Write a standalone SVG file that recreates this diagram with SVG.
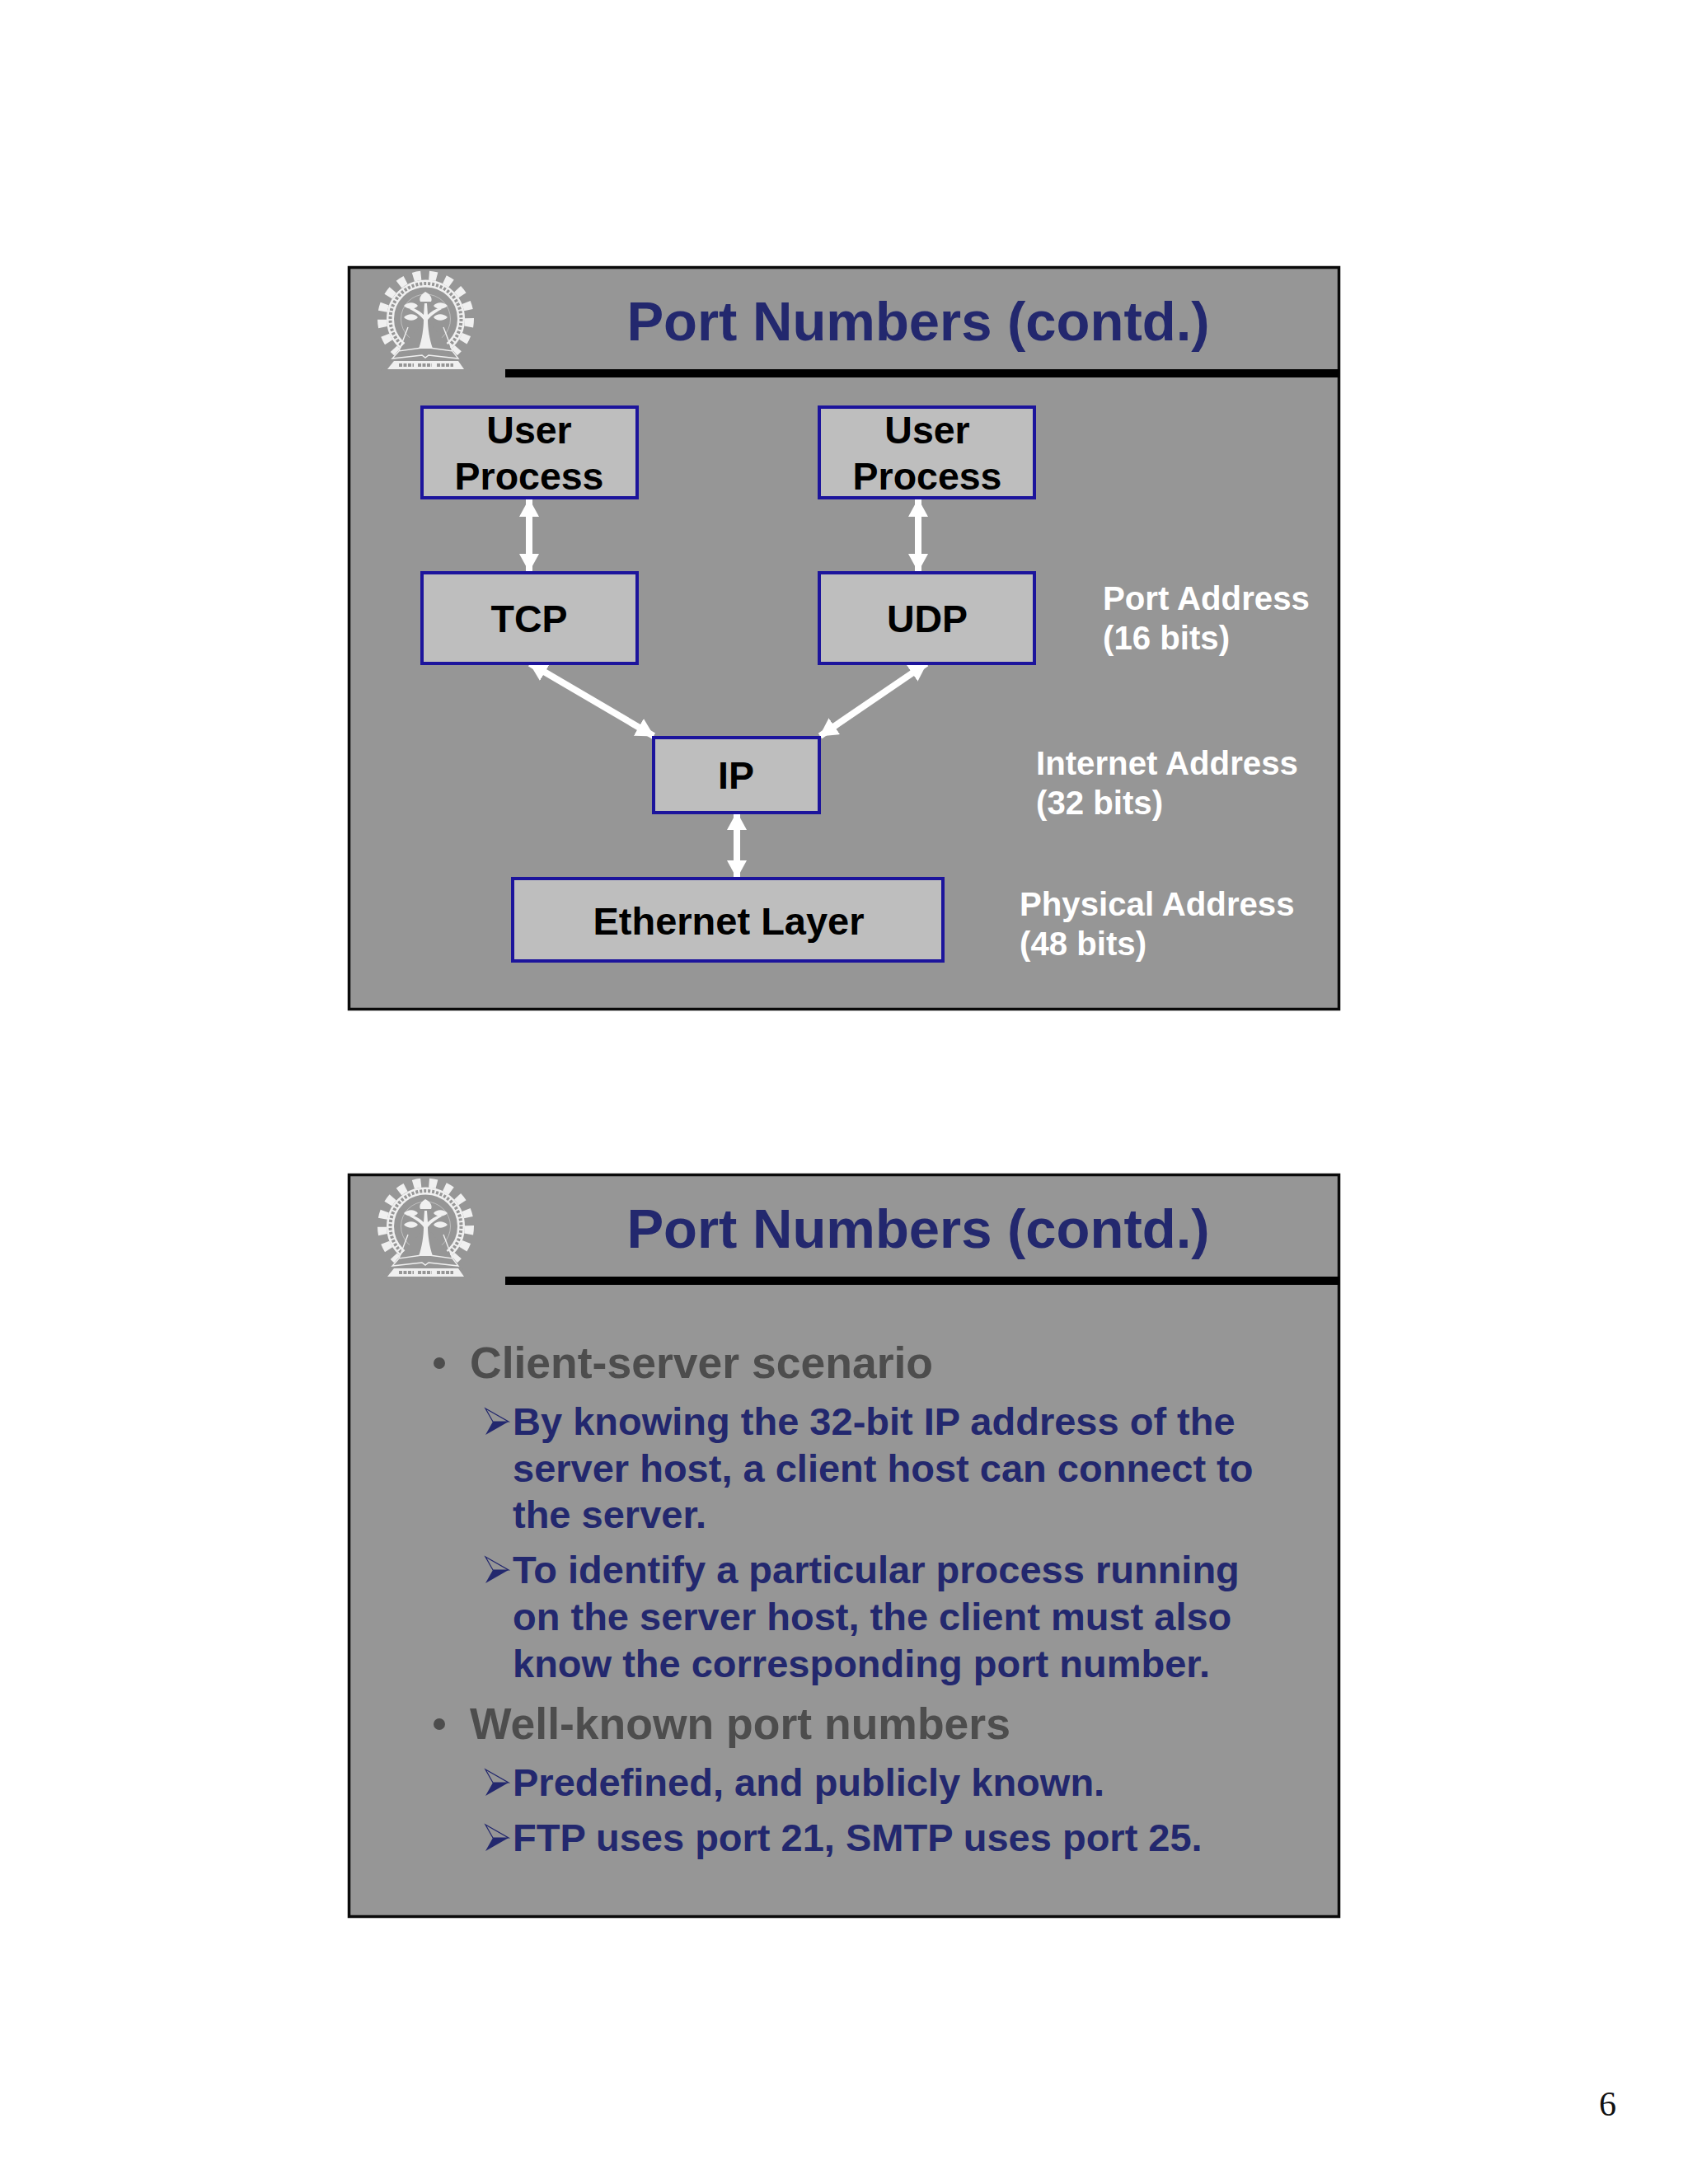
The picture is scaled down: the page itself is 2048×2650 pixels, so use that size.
<svg xmlns="http://www.w3.org/2000/svg" xmlns:xlink="http://www.w3.org/1999/xlink" width="2048" height="2650" viewBox="0 0 2048 2650">
<style>
text{font-family:"Liberation Sans",Arial,sans-serif;font-weight:700}
.slide{fill:#969696;stroke:#0a0a0a;stroke-width:3.5}
.rule{fill:#000}
.title{font-size:67px;fill:#23286e;text-anchor:middle}
.box{fill:#bebebe;stroke:#1c149c;stroke-width:4}
.bt{font-size:46.5px;fill:#000;text-anchor:middle}
.lab{font-size:40.2px;fill:#fff}
.h1{font-size:53.5px;fill:#4d4d4d}
.h2{font-size:47px;fill:#23286e}
.conn{stroke:#fff;stroke-width:8;fill:none;marker-start:url(#ah);marker-end:url(#ah)}
.lg{stroke:#f0f0f0;fill:none}
.lf{fill:#f0f0f0}
</style>
<defs>
<marker id="ah" viewBox="0 0 22 24" refX="21" refY="12" markerUnits="userSpaceOnUse" markerWidth="22" markerHeight="24" orient="auto-start-reverse"><path d="M0 0L22 12L0 24z" fill="#fff"/></marker>
<g id="logo">
<circle class="lg" cx="516.5" cy="387" r="53" stroke-width="11" stroke-dasharray="9.5 10"/>
<circle class="lg" cx="516.5" cy="387" r="43" stroke-width="9"/>
<circle cx="516.5" cy="387" r="43" fill="none" stroke="#969696" stroke-width="4" stroke-dasharray="3 2"/>
<circle class="lg" cx="516.5" cy="387" r="30" stroke-width="1" opacity=".45"/>
<path d="M516.5 387L462 450L571 450z" fill="#969696"/>
<path class="lf" d="M508 423C512 412 514 398 514 388C510 382 503 378 497 375L499 373C505 375 510 378 514 382L515 368L518 368L519 382C523 378 528 375 534 373L536 375C530 378 524 382 519 388C519 398 521 412 525 423z"/>
<path class="lf" d="M516 354C510 358 508 362 510 366L523 366C525 362 522 357 516 354zM490 371C495 366 503 366 507 371C503 376 495 376 490 371zM543 371C538 366 530 366 526 371C530 376 538 376 543 371zM490 385C495 380 503 380 507 385C503 390 495 390 490 385zM543 385C538 380 530 380 526 385C530 390 538 390 543 385z"/>
<path class="lg" stroke-width="1.4" d="M495 397L484 426L512 422M538 397L549 426L521 422M484 426L476 435L512 431L516 434L520 431L556 435L549 426"/>
<path class="lf" d="M478 438L556 438L563 448L470 448z"/>
<path d="M484 443H502M507 443H524M530 443H550" stroke="#969696" stroke-width="4" stroke-dasharray="4 1.5" fill="none"/>
</g>
<g id="bul"><path d="M0 0L28 16L0 32L9 16z" fill="#23286e"/><path d="M0 0L28 16L9 16z" fill="#969696" stroke="#23286e" stroke-width="1.2"/></g>
</defs>
<rect width="2048" height="2650" fill="#fff"/>

<g id="slide1">
<rect class="slide" x="423.5" y="324.5" width="1201" height="900"/>
<use xlink:href="#logo" href="#logo"/>
<text class="title" x="1114" y="413">Port Numbers (contd.)</text>
<rect class="rule" x="613" y="448" width="1012" height="10"/>
</g>
<g id="connectors">
<line class="conn" x1="642" y1="606" x2="642" y2="693"/>
<line class="conn" x1="1114" y1="606" x2="1114" y2="693"/>
<line class="conn" x1="643" y1="805" x2="793" y2="893"/>
<line class="conn" x1="1124" y1="805" x2="995" y2="893"/>
<line class="conn" x1="894" y1="986" x2="894" y2="1065"/>
</g>
<g id="n-user1"><rect class="box" x="512" y="494" width="261" height="110"/><text class="bt" x="642" y="538">User</text><text class="bt" x="642" y="594">Process</text></g>
<g id="n-user2"><rect class="box" x="994" y="494" width="261" height="110"/><text class="bt" x="1125" y="538">User</text><text class="bt" x="1125" y="594">Process</text></g>
<g id="n-tcp"><rect class="box" x="512" y="695" width="261" height="110"/><text class="bt" x="642" y="767">TCP</text></g>
<g id="n-udp"><rect class="box" x="994" y="695" width="261" height="110"/><text class="bt" x="1125" y="767">UDP</text></g>
<g id="n-ip"><rect class="box" x="793" y="895" width="201" height="91"/><text class="bt" x="893" y="957">IP</text></g>
<g id="n-eth"><rect class="box" x="622" y="1066" width="522" height="100"/><text class="bt" style="font-size:47px" x="884" y="1134">Ethernet Layer</text></g>
<g id="labels">
<text class="lab" x="1338" y="740">Port Address</text><text class="lab" x="1338" y="788">(16 bits)</text>
<text class="lab" x="1257" y="940">Internet Address</text><text class="lab" x="1257" y="988">(32 bits)</text>
<text class="lab" x="1237" y="1111">Physical Address</text><text class="lab" x="1237" y="1159">(48 bits)</text>
</g>

<g id="slide2">
<rect class="slide" x="423.5" y="1425.5" width="1201" height="900"/>
<use xlink:href="#logo" href="#logo" y="1101"/>
<text class="title" x="1114" y="1514">Port Numbers (contd.)</text>
<rect class="rule" x="613" y="1549" width="1012" height="10"/>
<circle cx="533" cy="1654" r="7" fill="#4d4d4d"/>
<text class="h1" x="570" y="1672">Client-server scenario</text>
<use xlink:href="#bul" href="#bul" x="589" y="1709"/>
<text class="h2" x="622" y="1741">By knowing the 32-bit IP address of the</text>
<text class="h2" x="622" y="1798">server host, a client host can connect to</text>
<text class="h2" x="622" y="1854">the server.</text>
<use xlink:href="#bul" href="#bul" x="589" y="1889"/>
<text class="h2" x="622" y="1921">To identify a particular process running</text>
<text class="h2" x="622" y="1978">on the server host, the client must also</text>
<text class="h2" x="622" y="2035">know the corresponding port number.</text>
<circle cx="533" cy="2092" r="7" fill="#4d4d4d"/>
<text class="h1" x="570" y="2110">Well-known port numbers</text>
<use xlink:href="#bul" href="#bul" x="589" y="2147"/>
<text class="h2" x="622" y="2179">Predefined, and publicly known.</text>
<use xlink:href="#bul" href="#bul" x="589" y="2214"/>
<text class="h2" x="622" y="2246">FTP uses port 21, SMTP uses port 25.</text>
</g>
<text x="1940" y="2567" style="font-family:'Liberation Serif','Times New Roman',serif;font-weight:400;font-size:42px;fill:#111">6</text>
</svg>
